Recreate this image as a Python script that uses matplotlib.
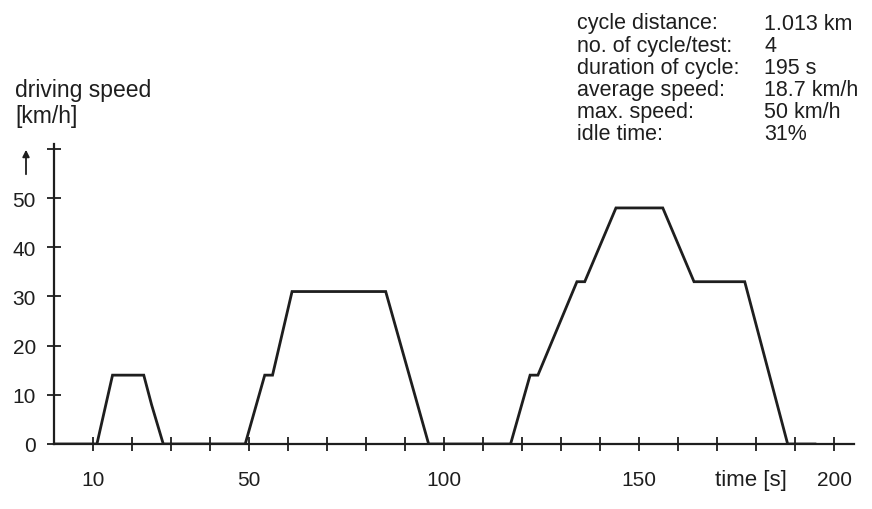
import matplotlib
matplotlib.use("Agg")
import matplotlib.pyplot as plt

# driving cycle
time_s = [0, 11, 15, 23, 25, 28, 49, 54, 56, 61, 85, 96, 117, 122, 124, 134, 136, 144, 156, 164, 177, 188, 195]
speed_kmh = [0, 0, 14, 14, 8, 0, 0, 14, 14, 31, 31, 0, 0, 14, 14, 33, 33, 48, 48, 33, 33, 0, 0]

x_ticks = list(range(10, 201, 10))
x_labels = {10: "10", 50: "50", 100: "100", 150: "150", 200: "200"}
y_ticks = [0, 10, 20, 30, 40, 50, 60]
y_labels = ["0", "10", "20", "30", "40", "50", ""]

info_keys = ["cycle distance:", "no. of cycle/test:", "duration of cycle:",
             "average speed:", "max. speed:", "idle time:"]
info_vals = ["1.013 km", "4", "195 s", "18.7 km/h", "50 km/h", "31%"]

ink = "#1e1e1e"
plt.rcParams['font.family'] = ['Liberation Sans', 'DejaVu Sans']

fig = plt.figure(figsize=(8.72, 5.10), dpi=100)
ax = fig.add_axes([54 / 872, 65 / 510, 800 / 872, 300 / 510])

ax.plot(time_s, speed_kmh, color=ink, lw=2.0, solid_joinstyle='miter')

ax.set_xlim(0, 205)
ax.set_ylim(0, 61)
for s in ['top', 'right']:
    ax.spines[s].set_visible(False)
for s in ['left', 'bottom']:
    ax.spines[s].set_color(ink)
    ax.spines[s].set_linewidth(1.6)

ax.set_xticks(x_ticks)
ax.set_xticklabels([x_labels.get(t, "") for t in x_ticks])
ax.set_yticks(y_ticks)
ax.set_yticklabels(y_labels)
ax.tick_params(axis='both', direction='inout', length=10, width=1.3, color=ink,
               labelcolor=ink, labelsize=15)
ax.tick_params(axis='x', pad=14)
ax.tick_params(axis='y', pad=8)

fig.text(715 / 872, 1 - 481 / 510, "time [s]", fontsize=16, color=ink,
         ha='left', va='center')

fig.text(15 / 872, 1 - 91 / 510, "driving speed", fontsize=16.5, color=ink,
         ha='left', va='center')
fig.text(15 / 872, 1 - 117 / 510, "[km/h]", fontsize=16.5, color=ink,
         ha='left', va='center')
fig.patches.append(matplotlib.patches.FancyArrowPatch(
    (26 / 872, 1 - 178 / 510), (26 / 872, 1 - 148 / 510),
    transform=fig.transFigure, arrowstyle='-|>', mutation_scale=10,
    color=ink, lw=1.3))

for i, (k, v) in enumerate(zip(info_keys, info_vals)):
    y = 1 - (24 + i * 22.2) / 510
    fig.text(577 / 872, y, k, fontsize=15.5, color=ink, ha='left', va='center')
    fig.text(764 / 872, y, v, fontsize=15.5, color=ink, ha='left', va='center')

fig.savefig("out.png", dpi=100)
